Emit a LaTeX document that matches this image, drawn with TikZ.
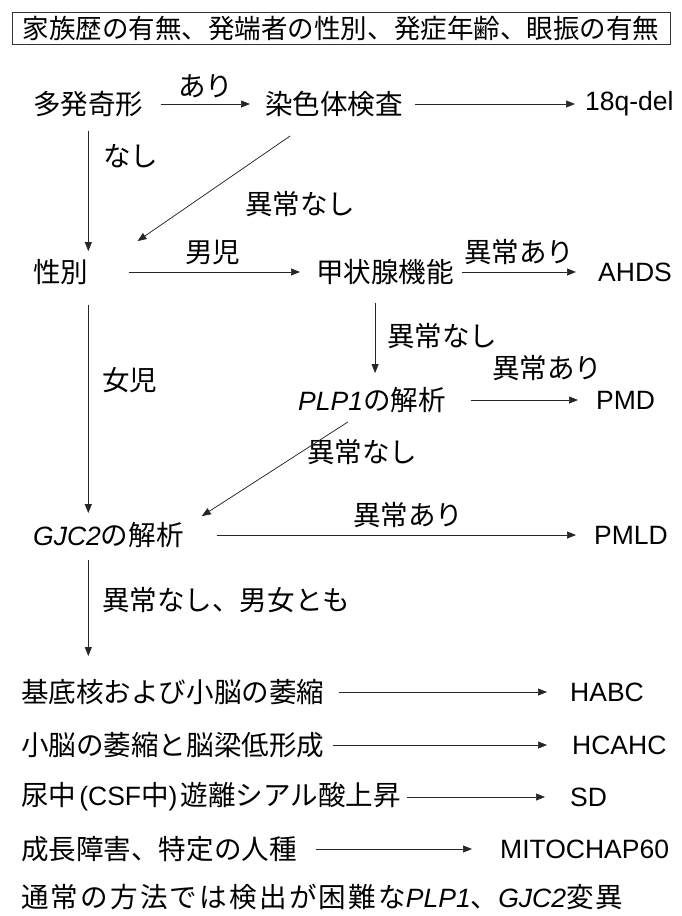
\documentclass[tikz,border=0pt]{standalone}
\usepackage{fontspec}
\setmainfont{Liberation Sans}
\newfontfamily\cjk{Noto Sans CJK JP}[Scale=1.04]
\newfontfamily\cjkw{Noto Sans CJK JP}[Scale=1.04,LetterSpace=8]
\usetikzlibrary{arrows.meta,calc}
\begin{document}
\begin{tikzpicture}[x=1pt,y=-1pt,
  arr/.style={-{Triangle[length=9pt,width=7pt]}, line width=0.7pt, draw=black!85, fill=black!85},
  lbl/.style={inner sep=0pt, anchor=west, font=\fontsize{26.5}{30}\selectfont},
]
\useasboundingbox (0,0) rectangle (682,916);
\node[draw=black!80, line width=0.8pt, minimum width=658pt, minimum height=32pt, inner sep=0pt, font=\fontsize{25.5}{30}\selectfont] (title) at (341,28) {\cjk 家族歴の有無、発端者の性別、発症年齢、眼振の有無};

% row 1
\node[lbl] (tah) at (33,104) {\cjk 多発奇形};
\node[lbl] (sen) at (265,104) {\cjk 染色体検査};
\node[lbl] (q18) at (585,104) {18q-del};
% row 2
\node[lbl] (sex) at (33,272) {\cjk 性別};
\node[lbl] (thy) at (316,272) {\cjk 甲状腺機能};
\node[lbl] (ahds) at (598,272) {AHDS};
% row 3
\node[lbl] (plp) at (298,400) {\itshape PLP1{\upshape\cjk の解析}};
\node[lbl] (pmd) at (596,400) {PMD};
% row 4
\node[lbl] (gjc) at (33,535) {\itshape GJC2{\upshape\cjk の解析}};
\node[lbl] (pmld) at (594,535) {PMLD};
% final rows
\node[lbl] (r1) at (21,692) {\cjk 基底核および小脳の萎縮};
\node[lbl] (habc) at (570,692) {HABC};
\node[lbl] (r2) at (21,745) {\cjk 小脳の萎縮と脳梁低形成};
\node[lbl] (hcahc) at (572,745) {HCAHC};
\node[lbl] (r3) at (21,797) {{\cjk 尿中}\hspace{3pt}(CSF{\cjk 中})\hspace{3pt}{\cjk 遊離シアル酸上昇}};
\node[lbl] (sd) at (570,797) {SD};
\node[lbl] (r4) at (21,849) {\cjk 成長障害、特定の人種};
\node[lbl] (mito) at (500,849) {MITOCHAP60};
\node[lbl] (r5) at (21,897) {{\cjkw 通常の方法では検出が困難な}\textit{PLP1}{\cjkw 、}\textit{GJC2}{\cjkw 変異}};

% edge labels
\node[lbl] (l1) at (178,86) {\cjk あり};
\node[lbl] (l2) at (103,156) {\cjk なし};
\node[lbl] (l3) at (245,204) {\cjk 異常なし};
\node[lbl] (l4) at (185,252) {\cjk 男児};
\node[lbl] (l5) at (464,252) {\cjk 異常あり};
\node[lbl] (l6) at (102,380) {\cjk 女児};
\node[lbl] (l7) at (387,336) {\cjk 異常なし};
\node[lbl] (l8) at (492,368) {\cjk 異常あり};
\node[lbl] (l9) at (307,452) {\cjk 異常なし};
\node[lbl] (l10) at (353,515) {\cjk 異常あり};
\node[lbl] (l11) at (102,600) {\cjk 異常なし、男女とも};

% connectors
\draw[arr] ([xshift=17pt]tah.east) -- ([xshift=-15pt]sen.west);
\draw[arr] ([xshift=12pt]sen.east) -- ([xshift=-10pt]q18.west);
\draw[arr] ([yshift=-14pt]tah.south) -- ([yshift=8pt]tah.south |- sex.north);
\draw[arr] ([xshift=-44pt,yshift=-19pt]sen.south) -- ([xshift=49pt,yshift=18pt]sex.north east);
\draw[arr] ([xshift=40pt]sex.east) -- ([xshift=-16pt]thy.west);
\draw[arr] ([xshift=8pt]thy.east) -- ([xshift=-22pt]ahds.west);
\draw[arr] ([yshift=-20pt]tah.south |- sex.south) -- ([yshift=9pt]tah.south |- gjc.north);
\draw[arr] ([xshift=-10pt,yshift=-18pt]thy.south) -- ([xshift=-10pt,yshift=14pt]thy.south |- plp.north);
\draw[arr] ([xshift=25pt]plp.east) -- ([xshift=-18pt]pmd.west);
\draw[arr] ([xshift=-24pt,yshift=-9pt]plp.south) -- ([xshift=18pt,yshift=6pt]gjc.north east);
\draw[arr] ([xshift=33pt]gjc.east) -- ([xshift=-18pt]pmld.west);
\draw[arr] ([yshift=-12pt]tah.south |- gjc.south) -- ([yshift=23pt]tah.south |- r1.north);
\draw[arr] ([xshift=14pt]r1.east) -- ([xshift=-23pt]habc.west);
\draw[arr] ([xshift=8pt]r2.east) -- ([xshift=-25pt]hcahc.west);
\draw[arr] ([xshift=6pt]r3.east) -- ([xshift=-25pt]sd.west);
\draw[arr] ([xshift=19pt]r4.east) -- ([xshift=-28pt]mito.west);
\end{tikzpicture}
\end{document}
